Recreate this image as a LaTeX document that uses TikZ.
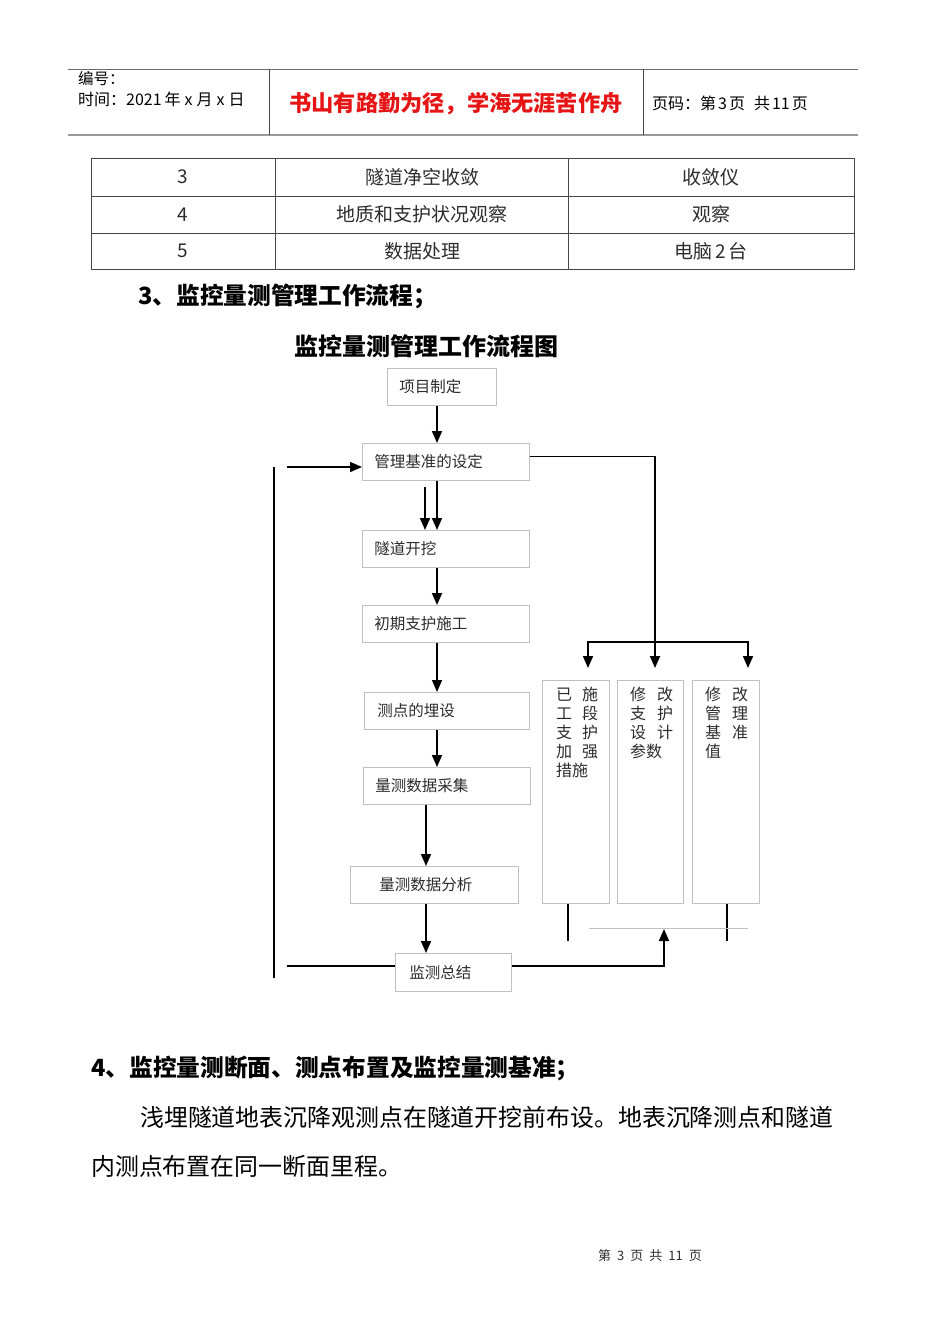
\documentclass[tikz,border=0pt]{standalone}
\usepackage{fontspec}
\setmainfont{Noto Sans CJK SC}
\usepackage{tikz}
\usetikzlibrary{arrows.meta,positioning,calc}
\usepackage{xcolor}
\definecolor{boxgray}{RGB}{192,192,192}
\definecolor{rulegray}{RGB}{70,70,70}
\definecolor{inkgray}{RGB}{45,45,45}
\definecolor{mottored}{RGB}{230,20,20}
\tikzset{
    flowbox/.style={
        draw=boxgray,line width=.8pt,anchor=north west,
        minimum height=37pt,inner xsep=12pt,align=left,
        text=inkgray,font=\fontsize{15.5}{15.5}\selectfont
    },
    colbox/.style={
        draw=boxgray,line width=.8pt,anchor=north west,
        minimum height=223pt,inner sep=0pt
    },
    coltext/.style={
        anchor=north west,align=left,inner sep=0pt,
        text=inkgray,font=\fontsize{16}{19}\selectfont
    },
    cell/.style={
        text=inkgray,font=\fontsize{19}{19}\selectfont
    },
    plain/.style={
        anchor=west,inner sep=0pt
    },
    arrow/.style={
        -{Triangle[length=12pt,width=10pt]},line width=1.7pt,draw=black
    },
    link/.style={
        line width=1.7pt,draw=black
    }
}

\begin{document}
\begin{tikzpicture}[x=1pt,y=-1pt]

\useasboundingbox[fill=white] (0,0) rectangle (950,1344);

% header
\draw[rulegray!80,line width=.8pt] (68,69) -- (858,69);
\draw[gray!80,line width=2pt] (68,135) -- (858,135);
\draw[rulegray,line width=.8pt] (269,69) -- (269,135);
\draw[rulegray,line width=.8pt] (643,69) -- (643,135);
\node[plain,font=\fontsize{15.5}{15.5}\selectfont] (hnum) at (78,79) {编号：};
\node[plain,font=\fontsize{16}{16}\selectfont] (htime) at (78,99)
{时间：2021\hspace{3pt}年\hspace{4pt}x\hspace{4pt}月\hspace{4pt}x\hspace{4pt}日};
\node[font=\fontsize{22.2}{22.2}\selectfont\bfseries,text=mottored] (motto) at (456,104)
{书山有路勤为径，学海无涯苦作舟};
\node[plain,font=\fontsize{16}{16}\selectfont] (hpage) at (652,103)
{页码：第\hspace{2pt}3\hspace{2pt}页\hspace{9pt}共\hspace{2pt}11\hspace{2pt}页};

% table
\draw[rulegray,line width=.8pt] (91,158) rectangle (854,269);
\draw[rulegray,line width=.8pt] (91,196) -- (854,196);
\draw[rulegray,line width=.8pt] (91,233) -- (854,233);
\draw[rulegray,line width=.8pt] (275,158) -- (275,269);
\draw[rulegray,line width=.8pt] (568,158) -- (568,269);
\node[cell] (r3n) at (183,177) {3};
\node[cell] (r3a) at (422,177) {隧道净空收敛};
\node[cell] (r3b) at (711,177) {收敛仪};
\node[cell] (r4n) at (183,214.5) {4};
\node[cell] (r4a) at (422,214.5) {地质和支护状况观察};
\node[cell] (r4b) at (711,214.5) {观察};
\node[cell] (r5n) at (183,251) {5};
\node[cell] (r5a) at (422,251) {数据处理};
\node[cell] (r5b) at (711,251) {电脑\hspace{3pt}2\hspace{3pt}台};

% headings
\node[plain,font=\fontsize{23.7}{23.7}\selectfont\bfseries] (sec3) at (138,296)
{3、监控量测管理工作流程；};
\node[font=\fontsize{24}{24}\selectfont\bfseries] (title) at (426,346)
{监控量测管理工作流程图};

% flow boxes
\node[flowbox,text width=85pt] (plan) at (387,368) {项目制定};
\node[flowbox,text width=143pt] (base) at (362,443) {管理基准的设定};
\node[flowbox,text width=143pt] (dig) at (362,530) {隧道开挖};
\node[flowbox,text width=143pt] (support) at (362,605) {初期支护施工};
\node[flowbox,text width=139pt,inner xsep=13pt] (point) at (364,692) {测点的埋设};
\node[flowbox,text width=143pt] (collect) at (363,767) {量测数据采集};
\node[flowbox,text width=110pt,inner xsep=29pt] (analyse) at (350,866) {量测数据分析};
\node[flowbox,text width=88pt,inner xsep=14pt,minimum height=38pt] (summary) at (395,953) {监测总结};

% measure columns
\node[colbox,minimum width=67pt] (fixA) at (542,680) {};
\node[colbox,minimum width=66pt] (fixB) at (617,680) {};
\node[colbox,minimum width=67pt] (fixC) at (692,680) {};
\node[coltext] (txtA) at ([xshift=14pt,yshift=-7pt]fixA.north west)
{已\hspace{10pt}施\\工\hspace{10pt}段\\支\hspace{10pt}护\\加\hspace{10pt}强\\措施};
\node[coltext] (txtB) at ([xshift=13pt,yshift=-7pt]fixB.north west)
{修\hspace{11pt}改\\支\hspace{11pt}护\\设\hspace{11pt}计\\参数};
\node[coltext] (txtC) at ([xshift=13pt,yshift=-7pt]fixC.north west)
{修\hspace{11pt}改\\管\hspace{11pt}理\\基\hspace{11pt}准\\值};

% helper points
\coordinate (mainx) at (437,0);
\coordinate (anax) at (426,0);
\coordinate (leftx) at (425,487);
\coordinate (branch) at (655,642);
\coordinate (tipA) at (588,668);
\coordinate (tipB) at (655,668);
\coordinate (tipC) at (748,668);
\coordinate (loopTop) at (274,467);
\coordinate (loopBot) at (274,978);
\coordinate (feedIn) at (287,467);
\coordinate (feedOut) at (287,966);
\coordinate (tipUp) at (664,929);
\coordinate (stubA) at (568,941);
\coordinate (stubC) at (727,941);
\coordinate (gridL) at (589,928);
\coordinate (gridR) at (748,928);

% connectors
\draw[arrow] (plan.south -| mainx) -- (base.north -| mainx);
\draw[arrow] (base.south -| mainx) -- (dig.north -| mainx);
\draw[arrow] (leftx) -- (dig.north -| leftx);
\draw[arrow] (dig.south -| mainx) -- (support.north -| mainx);
\draw[arrow] (support.south -| mainx) -- (point.north -| mainx);
\draw[arrow] (point.south -| mainx) -- (collect.north -| mainx);
\draw[arrow] (collect.south -| anax) -- (analyse.north -| anax);
\draw[arrow] (analyse.south -| anax) -- (summary.north -| anax);

\draw[arrow] ([yshift=5.5pt]base.east) -| (tipB);
\draw[arrow] (branch) -| (tipA);
\draw[arrow] (branch) -| (tipC);

\draw[link] (loopTop) -- (loopBot);
\draw[arrow] (feedIn) -- (base.west |- feedIn);
\draw[link] (feedOut) -- (summary.west |- feedOut);
\draw[arrow] (summary.east |- feedOut) -| (tipUp);

\draw[link] (fixA.south -| stubA) -- (stubA);
\draw[link] (fixC.south -| stubC) -- (stubC);
\draw[boxgray,line width=.8pt] (gridL) -- (gridR);

% text below
\node[plain,font=\fontsize{23.7}{23.7}\selectfont\bfseries] (sec4) at (91,1068)
{4、监控量测断面、测点布置及监控量测基准；};
\node[plain,font=\fontsize{23.9}{23.9}\selectfont] (para1) at (140,1117)
{浅埋隧道地表沉降观测点在隧道开挖前布设。地表沉降测点和隧道};
\node[plain,font=\fontsize{23.9}{23.9}\selectfont] (para2) at (91,1166)
{内测点布置在同一断面里程。};

% footer
\node[text=inkgray,font=\fontsize{13}{13}\selectfont] (foot) at (650,1256)
{第\hspace{6pt}3\hspace{6pt}页\hspace{6pt}共\hspace{6pt}11\hspace{6pt}页};

\end{tikzpicture}
\end{document}
